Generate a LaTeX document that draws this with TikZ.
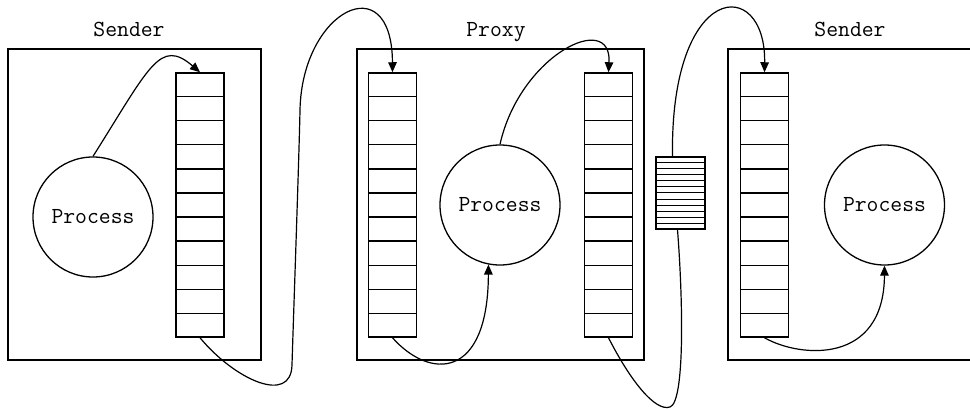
\documentclass[tikz,border=0pt]{standalone}
\usepackage{fontspec}
\usetikzlibrary{arrows.meta,calc}
\tikzset{
  >={Triangle[length=10pt,width=8.5pt]},
  sysbox/.style={draw,line width=1.5pt,inner sep=0pt},
  queue/.style={draw,line width=1.5pt,inner sep=0pt,minimum width=48pt,
    minimum height=264pt},
  cellline/.style={line width=1.6pt},
  packetbox/.style={draw,line width=1.4pt,inner sep=0pt,minimum width=49pt,
    minimum height=72pt},
  packetline/.style={line width=1pt},
  proc/.style={circle,draw,line width=1.3pt,minimum size=120pt,inner sep=0pt,
    font=\ttfamily\fontsize{23}{26}\selectfont},
  ttl/.style={anchor=base,inner sep=0pt,
    font=\ttfamily\fontsize{23}{26}\selectfont},
  flow/.style={->,line width=1.2pt},
  wire/.style={line width=1.2pt},
}

\begin{document}
\begin{tikzpicture}[x=1pt,y=-1pt]
  \useasboundingbox (0,0) rectangle (970,409);
  \clip (0,0) rectangle (970,409);

  \node[sysbox,minimum width=253pt,minimum height=311pt] (sbox) at (134.5,204.5) {};
  \node[sysbox,minimum width=287pt,minimum height=311pt] (pbox) at (500.5,204.5) {};
  \node[sysbox,minimum width=254pt,minimum height=311pt] (rbox) at (855,204.5) {};
  \node[ttl] (stitle) at (129,37) {Sender};
  \node[ttl] (ptitle) at (496,37) {Proxy};
  \node[ttl] (rtitle) at (850,37) {Sender};

  \node[queue] (sq) at (200,205) {};
  \node[queue] (pin) at (392.5,205) {};
  \node[queue] (pout) at (608.5,205) {};
  \node[queue] (rq) at (764.5,205) {};
  \foreach \q in {sq,pin,pout,rq}
    \foreach \i in {1,...,10}
      \draw[cellline] ($(\q.north west)!\i/11!(\q.south west)$)
        -- ($(\q.north east)!\i/11!(\q.south east)$);

  \node[packetbox] (pkt) at (680.5,193) {};
  \foreach \i in {1,...,11}
    \draw[packetline] ($(pkt.north west)!\i/12!(pkt.south west)$)
      -- ($(pkt.north east)!\i/12!(pkt.south east)$);

  \node[proc] (sp) at (93,217) {Process};
  \node[proc] (pp) at (500,205) {Process};
  \node[proc] (rp) at (884.5,205) {Process};

  \draw[flow] (sp.north) .. controls (150,66) and (160,38) .. (sq.north);
  \draw[flow] (sq.south) .. controls (235,380) and (291,405) .. (292,365)
    .. controls (293,330) and (299,160) .. (300,110)
    .. controls (302,10) and (392,-35) .. (pin.north);
  \draw[flow] (pin.south) .. controls (430,380) and (488,380) .. (pp.-101);
  \draw[flow] (pp.north) .. controls (520,55) and (612,10) .. (pout.north);
  \draw[wire] (pout.south) .. controls (630,380) and (655,412) .. (670,407)
    .. controls (685,402) and (683,300) .. ([xshift=-3pt]pkt.south);
  \draw[flow] ([xshift=-8pt]pkt.north) .. controls (670,-20) and (766,-25) .. (rq.north);
  \draw[flow] (rq.south) .. controls (800,358) and (884,365) .. (rp.south);
\end{tikzpicture}
\end{document}
